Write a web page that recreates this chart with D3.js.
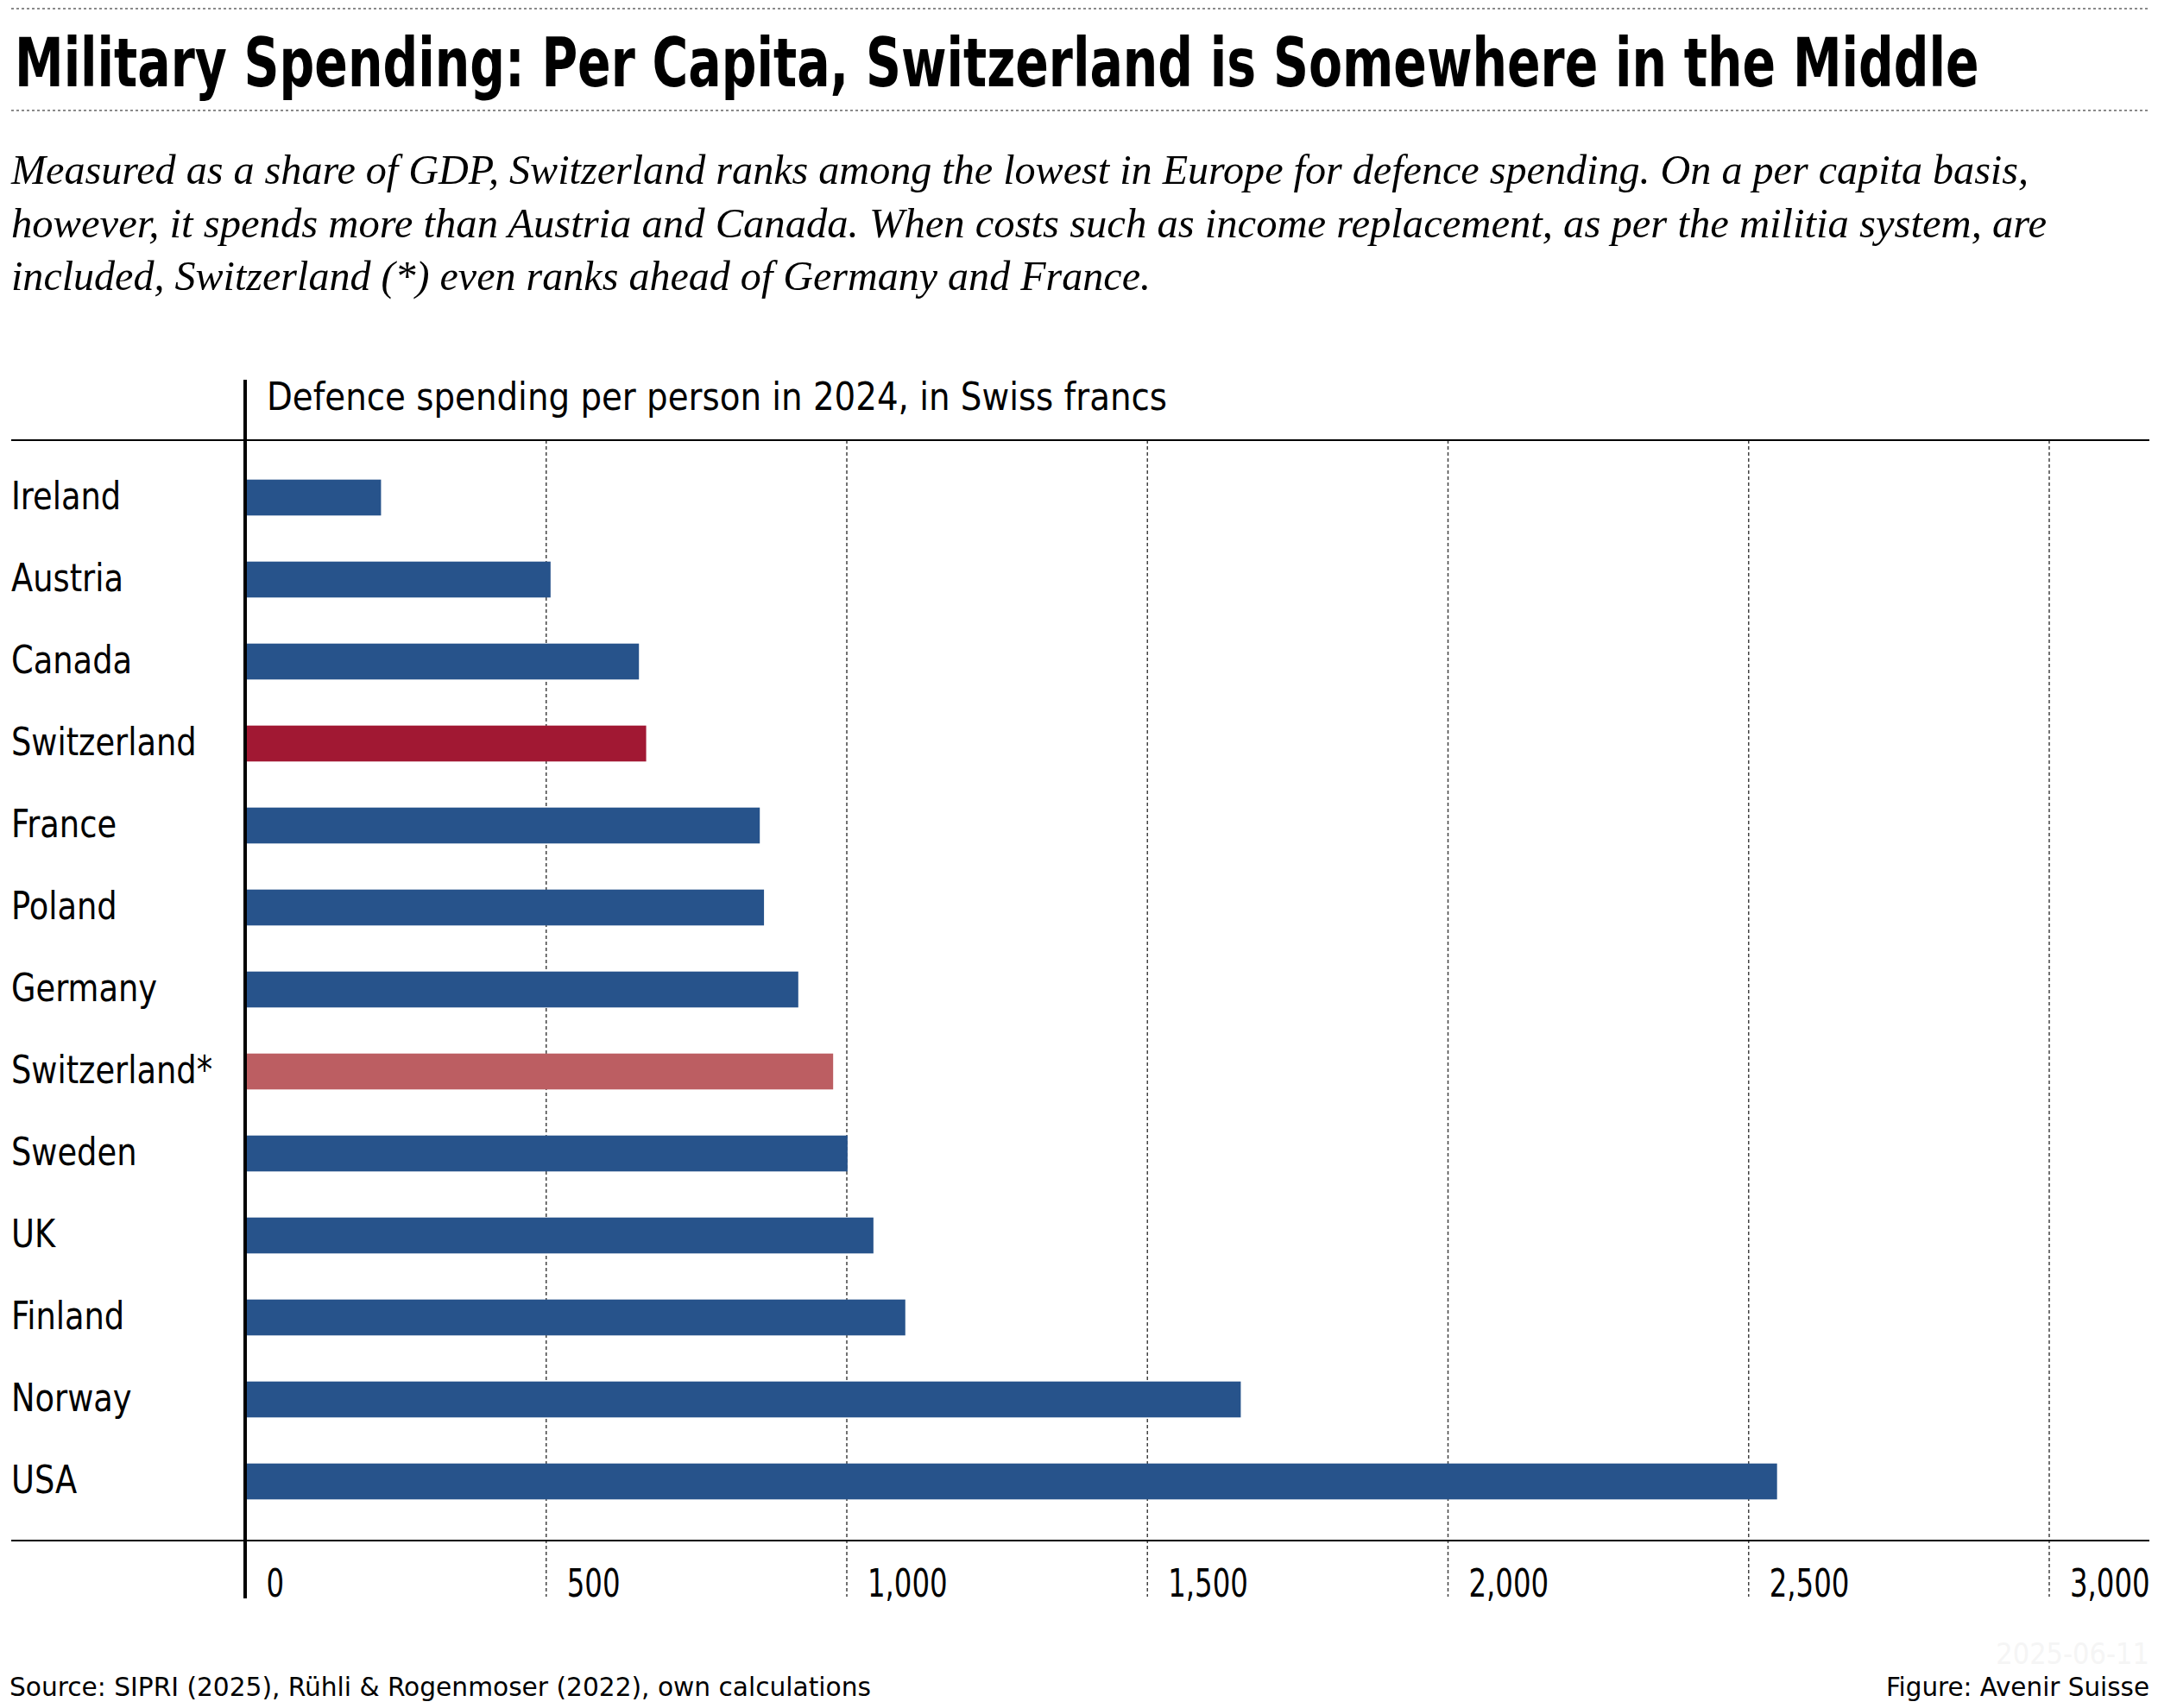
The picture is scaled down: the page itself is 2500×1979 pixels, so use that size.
<!DOCTYPE html>
<html>
<head>
<meta charset="utf-8">
<script src="https://cdn.jsdelivr.net/npm/d3@7"></script>
<style>
  body { margin: 0; background: #fff; }
  .sans { font-family: 'DejaVu Sans Condensed', 'DejaVu Sans', sans-serif; font-stretch: condensed; }
  .serif { font-family: 'Liberation Serif', 'DejaVu Serif', serif; font-style: italic; }
</style>
</head>
<body>
<svg id="chart"></svg>
<script>
let countries = ["Ireland", "Austria", "Canada", "Switzerland", "France", "Poland", "Germany",
                 "Switzerland*", "Sweden", "UK", "Finland", "Norway", "USA"];
let values = [226, 508, 655, 667, 856, 863, 920, 978, 1002, 1045, 1098, 1656, 2548];
let tickValues = [0, 500, 1000, 1500, 2000, 2500, 3000];

let titleText = "Military Spending: Per Capita, Switzerland is Somewhere in the Middle";
let subtitleLines = [
  "Measured as a share of GDP, Switzerland ranks among the lowest in Europe for defence spending. On a per capita basis,",
  "however, it spends more than Austria and Canada. When costs such as income replacement, as per the militia system, are",
  "included, Switzerland (*) even ranks ahead of Germany and France."
];
let axisTitle = "Defence spending per person in 2024, in Swiss francs";
let sourceText = "Source: SIPRI (2025), R\u00fchli & Rogenmoser (2022), own calculations";
let creditText = "Figure: Avenir Suisse";
let dateText = "2025-06-11";

let width = 2500;
let height = 1979;

let blue = "#27538b";
let red = "#a11833";
let lightRed = "#bc5e62";

let svg = d3.select("#chart")
  .attr("width", width)
  .attr("height", height);

svg.append("rect").attr("width", width).attr("height", height).attr("fill", "#fff");

// the original font is narrower than DejaVu: scale texts horizontally
// anchor at (x, y); factor is applied to the natural width
let squeeze = (sel, x, y, factor) => {
  sel.each(function (d, i) {
    let fx = typeof factor === "function" ? factor.call(this, d, i) : factor;
    let px = typeof x === "function" ? x(d, i) : x;
    let py = typeof y === "function" ? y(d, i) : y;
    d3.select(this)
      .attr("x", 0).attr("y", 0).attr("dy", 0)
      .attr("transform", "translate(" + px + "," + py + ") scale(" + fx + ",1)");
  });
};

// plot area
let x0 = 284;
let gridTop = 510;
let gridBottom = 1785;
let labelBase = 1850;

let xScale = d3.scaleLinear()
  .domain([0, 3000])
  .range([x0, x0 + 2089.5]);

let yScale = d3.scaleBand()
  .domain(countries)
  .range([529, 1764])
  .paddingInner(0.562)
  .paddingOuter(0.281);

// title block
let dotted = (y) => {
  svg.append("line")
    .attr("x1", 13).attr("x2", 2490)
    .attr("y1", y).attr("y2", y)
    .attr("stroke", "#8a8a8a")
    .attr("stroke-width", 2)
    .attr("stroke-dasharray", "3,3");
};
dotted(10);
dotted(128);

svg.append("text")
  .attr("class", "sans")
  .attr("font-size", 79)
  .attr("font-weight", "bold")
  .text(titleText)
  .call(squeeze, 17, 100, function () { return 2276 / this.getComputedTextLength(); });

let subLengths = [2337, 2358, 1320];
svg.selectAll(".sub")
  .data(subtitleLines)
  .enter()
  .append("text")
  .attr("class", "serif sub")
  .attr("x", 13)
  .attr("y", (d, i) => 213 + i * 61.5)
  .attr("font-size", 49)
  .attr("textLength", (d, i) => subLengths[i])
  .attr("lengthAdjust", "spacingAndGlyphs")
  .text((d) => d);

// grid + tick labels
let xAxis = d3.axisBottom(xScale)
  .tickValues(tickValues)
  .tickFormat(d3.format(","))
  .tickSize(labelBase - gridTop);

let axisG = svg.append("g")
  .attr("transform", "translate(0," + gridTop + ")")
  .call(xAxis)
  .attr("font-family", null)
  .attr("font-size", null);

axisG.select(".domain").remove();
axisG.selectAll(".tick line")
  .attr("stroke", "#444")
  .attr("stroke-width", 1.5)
  .attr("stroke-dasharray", "4,3")
  .attr("display", (d) => d === 0 ? "none" : null);
axisG.selectAll(".tick text")
  .attr("class", "sans")
  .attr("text-anchor", "start")
  .attr("font-size", 45)
  .attr("fill", "#000")
  .call(squeeze, 24, labelBase - gridTop, 0.8);

// horizontal rules
[gridTop, gridBottom].forEach((y) => {
  svg.append("line")
    .attr("x1", 13).attr("x2", 2490)
    .attr("y1", y).attr("y2", y)
    .attr("stroke", "#000")
    .attr("stroke-width", 2);
});

// bars
svg.selectAll(".bar")
  .data(values)
  .enter()
  .append("rect")
  .attr("class", "bar")
  .attr("x", xScale(0))
  .attr("y", (d, i) => yScale(countries[i]))
  .attr("width", (d) => xScale(d) - xScale(0))
  .attr("height", yScale.bandwidth())
  .attr("fill", (d, i) => countries[i] === "Switzerland" ? red
                         : countries[i] === "Switzerland*" ? lightRed : blue);

// y axis line
svg.append("line")
  .attr("x1", x0).attr("x2", x0)
  .attr("y1", 440).attr("y2", 1852)
  .attr("stroke", "#000")
  .attr("stroke-width", 4);

// country labels
svg.selectAll(".label")
  .data(countries)
  .enter()
  .append("text")
  .attr("class", "sans label")
  .attr("font-size", 44)
  .text((d) => d)
  .call(squeeze, 13, (d) => yScale(d) + yScale.bandwidth() / 2 + 13, 0.93);

// axis title
svg.append("text")
  .attr("class", "sans")
  .attr("x", 309).attr("y", 475)
  .attr("font-size", 44)
  .attr("textLength", 1043)
  .attr("lengthAdjust", "spacingAndGlyphs")
  .text(axisTitle);

// footer
svg.append("text")
  .attr("class", "sans")
  .attr("x", 2490).attr("y", 1928)
  .attr("text-anchor", "end")
  .attr("font-size", 34)
  .attr("fill", "#f5f5f5")
  .text(dateText);

svg.append("text")
  .attr("class", "sans")
  .attr("x", 11).attr("y", 1965)
  .attr("font-size", 31)
  .attr("textLength", 998)
  .attr("lengthAdjust", "spacingAndGlyphs")
  .text(sourceText);

svg.append("text")
  .attr("class", "sans")
  .attr("x", 2490).attr("y", 1965)
  .attr("text-anchor", "end")
  .attr("font-size", 31)
  .attr("textLength", 305)
  .attr("lengthAdjust", "spacingAndGlyphs")
  .text(creditText);
</script>
</body>
</html>
